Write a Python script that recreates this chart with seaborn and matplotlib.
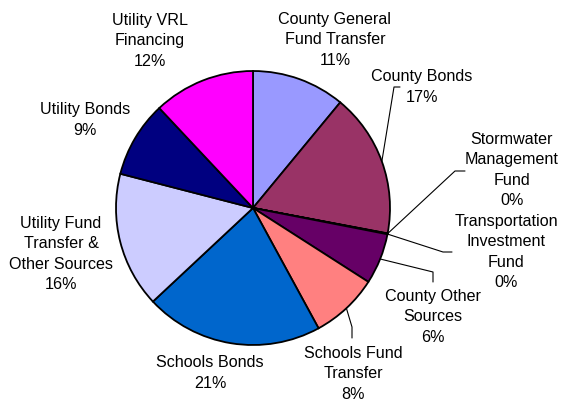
import numpy as np
import matplotlib
matplotlib.use("Agg")
import matplotlib.pyplot as plt
import seaborn as sns

# Funding sources, clockwise from 12 o'clock
sources = [
    "County General\nFund Transfer",
    "County Bonds",
    "Stormwater\nManagement\nFund",
    "Transportation\nInvestment\nFund",
    "County Other\nSources",
    "Schools Fund\nTransfer",
    "Schools Bonds",
    "Utility Fund\nTransfer &\nOther Sources",
    "Utility Bonds",
    "Utility VRL\nFinancing",
]
shares = [11, 17, 0.05, 0.05, 6, 8, 21, 16, 9, 12]
colors = ["#9999FF", "#993366", "#FFFFCC", "#CCFFFF", "#660066",
          "#FF8080", "#0066CC", "#CCCCFF", "#000080", "#FF00FF"]

# Label block centres (pixels) and leader-line bends (pixels, None = no leader)
label_px = [(335, 40), (422, 87), (512, 170), (506, 252), (433, 317),
            (353, 374), (210, 373), (61, 254), (85, 120), (150, 41)]
leader_px = [None,
             [(394, 87), (400, 87)],
             [(455, 171), (465, 171)],
             [(443, 252), (452, 252)],
             [(433, 272), (433, 282)],
             [(352, 327), (352, 338)],
             None, None, None, None]

sns.set_theme(style="white")
plt.rcParams["font.family"] = ["Liberation Sans", "DejaVu Sans"]

W, H, DPI = 562, 400, 100
CX, CY, R = 253, 208, 137

fig = plt.figure(figsize=(W / DPI, H / DPI), dpi=DPI)
ax = fig.add_axes([0, 0, 1, 1])


def to_data(p):
    return (p[0] - CX) / R, (CY - p[1]) / R


wedges, _ = ax.pie(shares, colors=colors, startangle=90, counterclock=False,
                   radius=1.0, center=(0, 0),
                   wedgeprops=dict(edgecolor="black", linewidth=1.3))
ax.set_xlim(-CX / R, (W - CX) / R)
ax.set_ylim(-(H - CY) / R, CY / R)
ax.set_aspect("equal")
ax.axis("off")

total = sum(shares)
for i, (w, name, val) in enumerate(zip(wedges, sources, shares)):
    pct = f"{round(val / total * 100):.0f}%"
    lx, ly = to_data(label_px[i])
    ax.text(lx, ly, f"{name}\n{pct}", ha="center", va="center",
            fontsize=11.6, color="black", linespacing=1.46)
    if leader_px[i] is not None:
        mid = np.deg2rad((w.theta1 + w.theta2) / 2)
        pts = [(np.cos(mid), np.sin(mid))] + [to_data(p) for p in leader_px[i]]
        xs, ys = zip(*pts)
        ax.plot(xs, ys, color="black", linewidth=0.8)

fig.savefig("out.png", dpi=DPI, facecolor="white")
